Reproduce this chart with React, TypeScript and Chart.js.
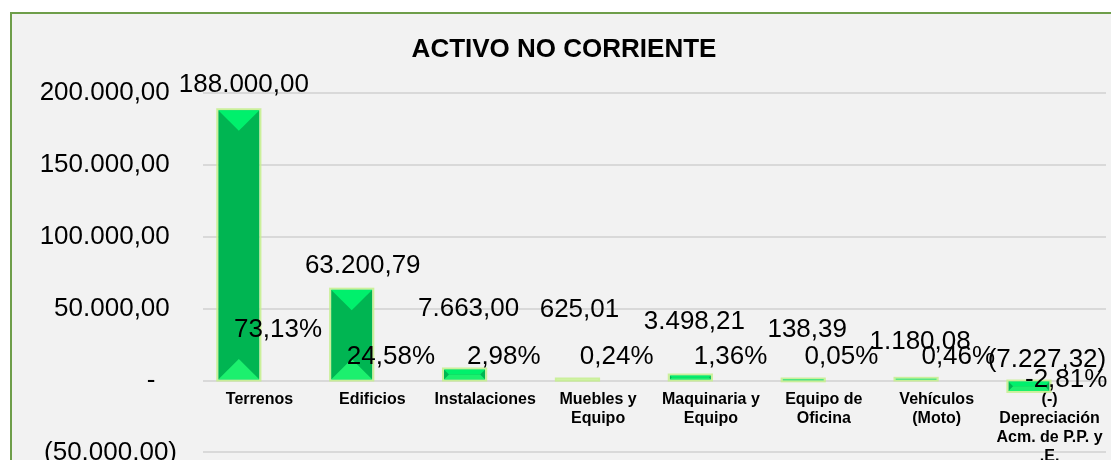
import React, { useEffect, useRef } from "react";
import { Chart, registerables } from "chart.js";

Chart.register(...registerables);

// ---- data ----
const chartTitle = "ACTIVO NO CORRIENTE";
const categories: string[][] = [
  ["Terrenos"],
  ["Edificios"],
  ["Instalaciones"],
  ["Muebles y", "Equipo"],
  ["Maquinaria y", "Equipo"],
  ["Equipo de", "Oficina"],
  ["Vehículos", "(Moto)"],
  ["(-)", "Depreciación", "Acm. de P.P. y", ".E."],
];
const values = [188000.0, 63200.79, 7663.0, 625.01, 3498.21, 138.39, 1180.08, -7227.32];
const percents = [0.7313, 0.2458, 0.0298, 0.0024, 0.0136, 0.0005, 0.0046, -0.0281];
const yMin = -50000;
const yMax = 200000;
const yStep = 50000;

// ---- label placement (pixel nudges, like manually moved Excel labels) ----
const valueLabelOffsets = [
  [5, -25], [11, -24], [4, -61], [2, -70], [4, -54], [4, -50], [4, -37], [18, -22],
];
const percentLabelOffsets = [
  [-2, -50], [-2, -23], [-2, -23], [-2, -23], [-1, -23], [-3, -23], [1, -23], [-4, -2],
];

const FONT = '"Liberation Sans", Arial, Helvetica, sans-serif';

function fmtNum(v: number): string {
  const abs = Math.abs(v);
  const [i, d] = abs.toFixed(2).split(".");
  const ii = i.replace(/\B(?=(\d{3})+(?!\d))/g, ".");
  const s = ii + "," + d;
  return v < 0 ? "(" + s + ")" : s;
}
function fmtPct(v: number): string {
  return (v * 100).toFixed(2).replace(".", ",") + "%";
}

const bevelAndLabels = {
  id: "bevelAndLabels",
  afterDatasetsDraw(chart: any) {
    const ctx = chart.ctx as CanvasRenderingContext2D;
    const m0 = chart.getDatasetMeta(0);
    const m1 = chart.getDatasetMeta(1);
    ctx.save();
    m0.data.forEach((bar: any) => {
      const { x, y, base, width } = bar.getProps(["x", "y", "base", "width"], true);
      const x0 = x - width / 2;
      const x1 = x + width / 2;
      const top = Math.min(y, base);
      const bot = Math.max(y, base);
      const h = bot - top;
      const d = Math.min(width, h) / 2;
      ctx.strokeStyle = "rgba(196,240,140,0.85)";
      ctx.lineWidth = 2;
      ctx.strokeRect(x0 - 1, top - 1, width + 2, h + 2);
      ctx.fillStyle = "#00f06c";
      ctx.beginPath();
      ctx.moveTo(x0, top);
      ctx.lineTo(x1, top);
      ctx.lineTo(x1 - d, top + d);
      ctx.lineTo(x0 + d, top + d);
      ctx.closePath();
      ctx.fill();
      ctx.fillStyle = "#1cf06e";
      ctx.beginPath();
      ctx.moveTo(x0, bot);
      ctx.lineTo(x1, bot);
      ctx.lineTo(x1 - d, bot - d);
      ctx.lineTo(x0 + d, bot - d);
      ctx.closePath();
      ctx.fill();
    });
    ctx.font = "26px " + FONT;
    ctx.fillStyle = "#000";
    ctx.textAlign = "center";
    ctx.textBaseline = "middle";
    m0.data.forEach((bar: any, i: number) => {
      const { x, y, base } = bar.getProps(["x", "y", "base"], true);
      const top = Math.min(y, base);
      const [dx, dy] = valueLabelOffsets[i];
      ctx.fillText(fmtNum(values[i]), x + dx, top + dy);
    });
    m1.data.forEach((bar: any, i: number) => {
      const { x, base } = bar.getProps(["x", "base"], true);
      const [dx, dy] = percentLabelOffsets[i];
      ctx.fillText(fmtPct(percents[i]), x + dx, base + dy);
    });
    ctx.restore();
  },
};

export default function App() {
  const ref = useRef<HTMLCanvasElement | null>(null);
  useEffect(() => {
    if (!ref.current) return;
    const chart = new Chart(ref.current, {
      type: "bar",
      data: {
        labels: categories,
        datasets: [
          {
            label: "Valor",
            data: values,
            backgroundColor: "#00b552",
            borderWidth: 0,
          },
          {
            label: "Porcentaje",
            data: percents,
            backgroundColor: "rgba(0,0,0,0)",
            borderWidth: 0,
          },
        ],
      },
      options: {
        responsive: false,
        animation: false,
        events: [],
        datasets: {
          bar: { categoryPercentage: 0.73, barPercentage: 1 },
        },
        layout: { padding: { left: 10, right: 16, top: 0, bottom: 0 } },
        plugins: {
          legend: { display: false },
          tooltip: { enabled: false },
          title: {
            display: true,
            text: chartTitle,
            color: "#000",
            font: { family: FONT, size: 26, weight: "bold", lineHeight: 1.2 },
            padding: { top: 20, bottom: 27.8 },
          },
        },
        scales: {
          x: {
            position: { y: 0 } as any,
            grid: { display: false },
            border: { display: false },
            ticks: {
              autoSkip: false,
              maxRotation: 0,
              minRotation: 0,
              padding: 1,
              color: "#000",
              font: { family: FONT, size: 16, weight: "bold", lineHeight: 1.2 },
            },
          },
          y: {
            min: yMin,
            max: yMax,
            afterFit: (scale: any) => {
              scale.width = 181;
            },
            grid: { color: "#d9d9d9", lineWidth: 2, drawTicks: false },
            border: { display: false },
            ticks: {
              stepSize: yStep,
              padding: 26,
              color: "#000",
              font: { family: FONT, size: 26 },
              callback: (v: any) => {
                const n = Number(v);
                if (n === 0) return "-   ";
                if (n < 0) return fmtNum(n);
                return fmtNum(n) + " ";
              },
            },
          },
        },
      },
      plugins: [bevelAndLabels],
    });
    return () => chart.destroy();
  }, []);

  return (
    <div
      style={{
        position: "fixed",
        left: 10,
        top: 12,
        width: 1120,
        height: 490,
        border: "2px solid #6e9e4a",
        background: "#f2f2f2",
        overflow: "hidden",
      }}
    >
      <canvas ref={ref} width={1110} height={480} style={{ width: 1110, height: 480, display: "block" }} />
    </div>
  );
}
